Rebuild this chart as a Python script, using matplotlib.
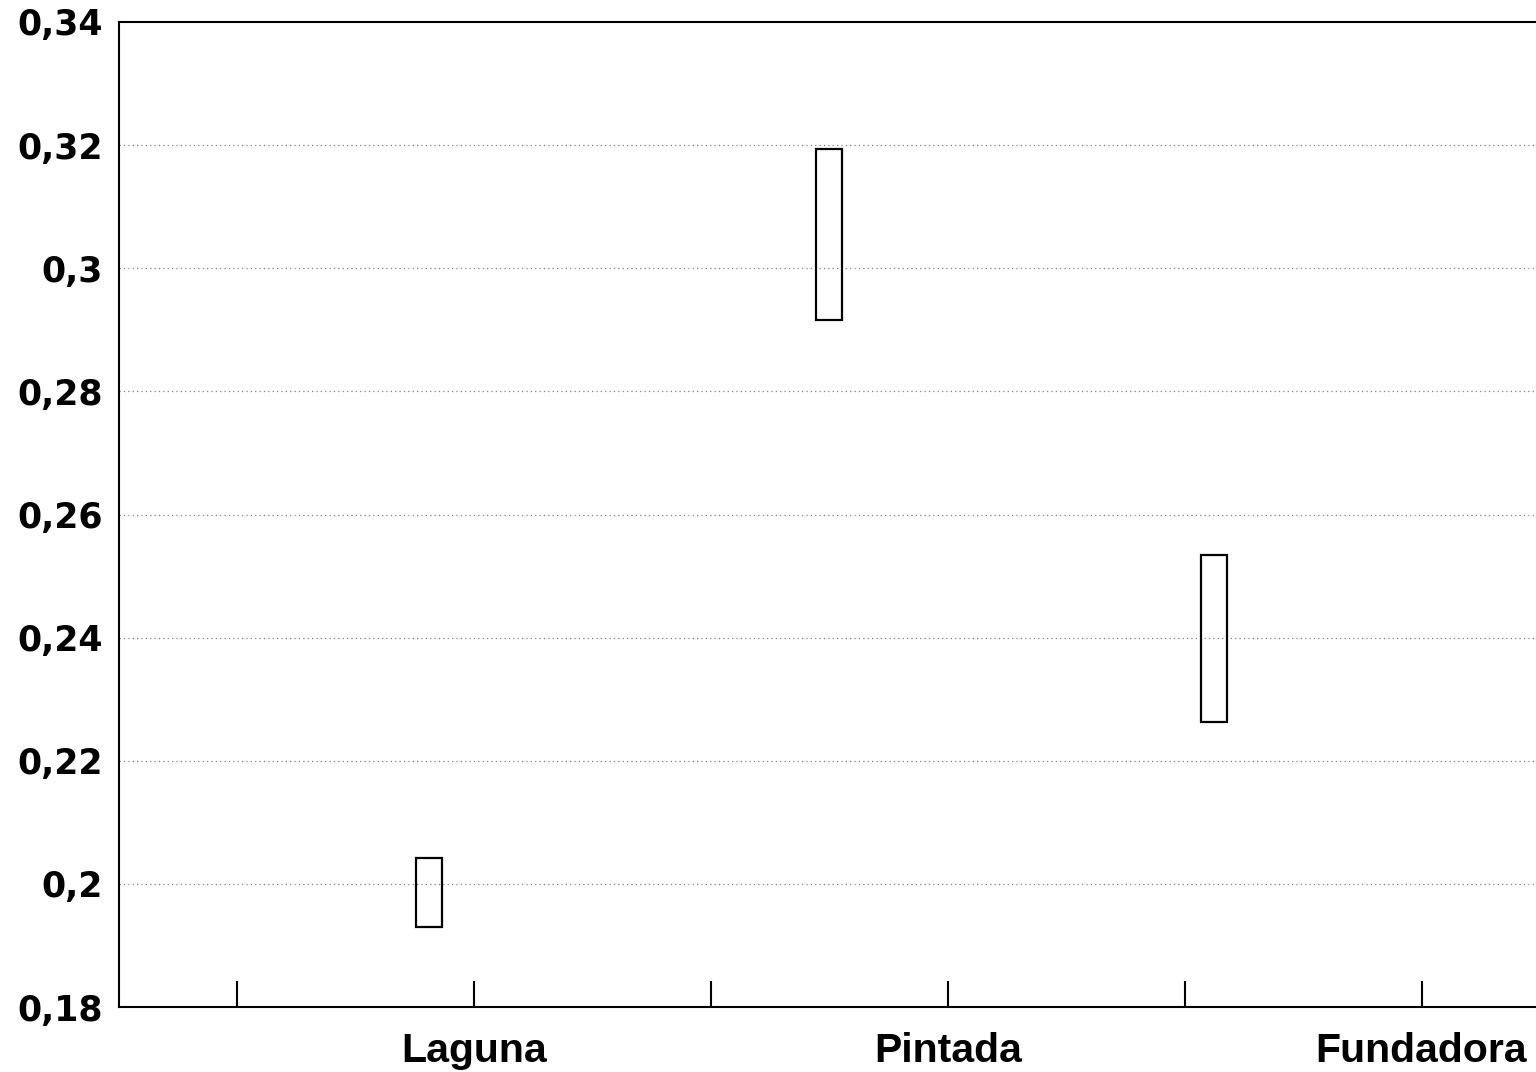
import matplotlib
matplotlib.use("Agg")
import matplotlib.pyplot as plt

# Data
sites = ["Laguna", "Pintada", "Fundadora"]
box_pos = [1.31, 3.0, 4.625]
box_low = [0.193, 0.2916, 0.2263]
box_high = [0.2042, 0.3194, 0.2534]

y_ticks = [0.18, 0.20, 0.22, 0.24, 0.26, 0.28, 0.30, 0.32, 0.34]
y_labels = ["0,18", "0,2", "0,22", "0,24", "0,26", "0,28", "0,3", "0,32", "0,34"]
x_ticks = [0.5, 1.5, 2.5, 3.5, 4.5, 5.5]
x_labels = ["", "Laguna", "", "Pintada", "", "Fundadora"]

fig = plt.figure(figsize=(15.36, 10.72), dpi=100)
ax = fig.add_axes([118.5/1536, 1 - 1007/1072, (1540 - 118.5)/1536, (1007 - 22)/1072])

ax.set_xlim(0, 6)
ax.set_ylim(0.18, 0.34)

for y in y_ticks[1:-1]:
    ax.axhline(y, color="0.5", lw=0.9, ls=(0, (1, 2.5)), zorder=1)

heights = [h - l for h, l in zip(box_high, box_low)]
ax.bar(box_pos, heights, bottom=box_low, width=0.11, fill=False,
       edgecolor="black", linewidth=1.6, zorder=3)

ax.set_yticks(y_ticks)
ax.set_yticklabels(y_labels, fontfamily="DejaVu Sans", fontweight="bold", fontsize=25)
ax.tick_params(axis="y", length=0, pad=11)

ax.set_xticks(x_ticks)
ax.set_xticklabels(x_labels, fontfamily="Liberation Sans", fontweight="bold", fontsize=29.5)
ax.tick_params(axis="x", direction="in", length=19, width=1.5, pad=18)

for s in ["left", "bottom", "top"]:
    ax.spines[s].set_linewidth(1.5)
ax.spines["right"].set_visible(False)

fig.savefig("out.png", dpi=100)
